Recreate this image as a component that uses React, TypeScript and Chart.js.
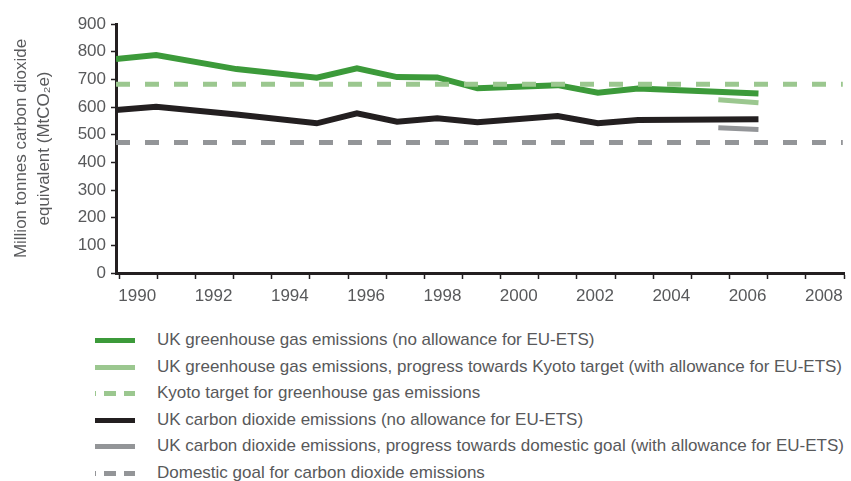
import React, { useEffect, useRef } from "react";
import { Chart, registerables } from "chart.js";

Chart.register(...registerables);

// ---- data ----
const ghgYears = [1990, 1991, 1993, 1995, 1996, 1997, 1998, 1999, 2001, 2002, 2003, 2006];
const ghgValues = [773, 788, 737, 706, 740, 708, 707, 668, 679, 652, 667, 649];
const co2Years = [1990, 1991, 1993, 1995, 1996, 1997, 1998, 1999, 2001, 2002, 2003, 2006];
const co2Values = [589, 601, 573, 541, 577, 547, 559, 545, 567, 541, 553, 556];
const ghgEtsYears = [2005, 2006];
const ghgEtsValues = [626, 615];
const co2EtsYears = [2005, 2006];
const co2EtsValues = [525, 519];
const kyotoYears = [1990, 2008.1];
const kyotoValues = [682, 682];
const domesticYears = [1990, 2008.1];
const domesticValues = [472, 472];

const tickYears = [1990, 1991, 1992, 1993, 1994, 1995, 1996, 1997, 1998, 1999, 2000, 2001, 2002, 2003, 2004, 2005, 2006, 2007, 2008, 2009];
const yMin = 0;
const yMax = 900;
const yStep = 100;
const yTitle = ["Million tonnes carbon dioxide", "equivalent (MtCO\u2082e)"];

const legendLabels = [
  "UK greenhouse gas emissions (no allowance for EU-ETS)",
  "UK greenhouse gas emissions, progress towards Kyoto target (with allowance for EU-ETS)",
  "Kyoto target for greenhouse gas emissions",
  "UK carbon dioxide emissions (no allowance for EU-ETS)",
  "UK carbon dioxide emissions, progress towards domestic goal (with allowance for EU-ETS)",
  "Domestic goal for carbon dioxide emissions",
];

// ---- styles ----
const GREEN = "#3c9a3a";
const LIGHT_GREEN = "#9bc78f";
const BLACK = "#231f20";
const GREY = "#939598";
const TEXT = "#58595b";
const FONT = "'Liberation Sans', Arial, Helvetica, sans-serif";

const zip = (xs: number[], ys: number[]) => xs.map((x, i) => ({ x, y: ys[i] }));

const legendStyles = [
  { color: GREEN, dashed: false },
  { color: LIGHT_GREEN, dashed: false },
  { color: LIGHT_GREEN, dashed: true },
  { color: BLACK, dashed: false },
  { color: GREY, dashed: false },
  { color: GREY, dashed: true },
];

export default function App() {
  const canvasRef = useRef<HTMLCanvasElement | null>(null);

  useEffect(() => {
    if (!canvasRef.current) return;
    const base = {
      pointRadius: 0,
      pointHoverRadius: 0,
      tension: 0,
      fill: false,
      xAxisID: "x2",
      yAxisID: "y",
      borderCapStyle: "butt" as const,
    };
    const chart = new Chart(canvasRef.current, {
      type: "line",
      data: {
        datasets: [
          { ...base, label: legendLabels[2], data: zip(kyotoYears, kyotoValues), borderColor: LIGHT_GREEN, borderWidth: 5, borderDash: [14, 15] },
          { ...base, label: legendLabels[5], data: zip(domesticYears, domesticValues), borderColor: GREY, borderWidth: 5, borderDash: [14, 15] },
          { ...base, label: legendLabels[1], data: zip(ghgEtsYears, ghgEtsValues), borderColor: LIGHT_GREEN, borderWidth: 5 },
          { ...base, label: legendLabels[4], data: zip(co2EtsYears, co2EtsValues), borderColor: GREY, borderWidth: 5 },
          { ...base, label: legendLabels[0], data: zip(ghgYears, ghgValues), borderColor: GREEN, borderWidth: 6 },
          { ...base, label: legendLabels[3], data: zip(co2Years, co2Values), borderColor: BLACK, borderWidth: 6 },
        ],
      },
      options: {
        animation: false,
        responsive: false,
        maintainAspectRatio: false,
        layout: { padding: { top: 24, right: 5, left: 0, bottom: 0 } },
        plugins: { legend: { display: false }, tooltip: { enabled: false } },
        scales: {
          x: {
            type: "linear",
            position: "bottom",
            min: 1989.914,
            max: 2009,
            afterBuildTicks: (axis: any) => {
              axis.ticks = tickYears.map((v) => ({ value: v }));
            },
            afterFit: (axis: any) => {
              axis.height = 42;
            },
            ticks: {
              autoSkip: false,
              maxRotation: 0,
              minRotation: 0,
              labelOffset: 18,
              padding: 7,
              color: TEXT,
              font: { family: FONT, size: 17 },
              callback: (v: any) => (Number(v) % 2 === 0 && Number(v) <= 2008 ? String(v) : ""),
            },
            grid: { display: true, drawOnChartArea: false, drawTicks: true, tickLength: 6, tickWidth: 1.5, tickColor: BLACK },
            border: { display: true, color: BLACK, width: 3 },
          },
          x2: {
            type: "linear",
            display: false,
            min: 1990,
            max: 2008.13,
          },
          y: {
            type: "linear",
            position: "left",
            min: yMin,
            max: yMax,
            afterFit: (axis: any) => {
              axis.width = 116;
            },
            ticks: {
              stepSize: yStep,
              padding: 5,
              color: TEXT,
              font: { family: FONT, size: 17 },
            },
            grid: { display: true, drawOnChartArea: false, drawTicks: true, tickLength: 5, tickWidth: 1.5, tickColor: BLACK },
            border: { display: true, color: BLACK, width: 3 },
            title: {
              display: true,
              text: yTitle,
              color: TEXT,
              font: { family: FONT, size: 17, lineHeight: 1.35 },
              padding: { top: 10, bottom: 0 },
            },
          },
        },
      },
    });
    return () => chart.destroy();
  }, []);

  return (
    <div style={{ position: "absolute", left: 0, top: 0, width: 851, height: 481, overflow: "hidden", background: "#fff", fontFamily: FONT }}>
      <canvas ref={canvasRef} width={851} height={315} style={{ position: "absolute", left: 0, top: 0, width: 851, height: 315 }} />
      {legendLabels.map((label, i) => {
        const st = legendStyles[i];
        const top = 327 + i * 26.5;
        const swatchBg = st.dashed
          ? `repeating-linear-gradient(to right, ${st.color} 0px, ${st.color} 12px, transparent 12px, transparent 20px)`
          : st.color;
        return (
          <div key={i} style={{ position: "absolute", left: 0, top, height: 26.5, width: 851 }}>
            <div
              style={{
                position: "absolute",
                left: 95,
                top: 11,
                width: 40,
                height: 5,
                background: swatchBg,
                backgroundPosition: st.dashed ? "-11px 0" : undefined,
              }}
            />
            <div
              style={{
                position: "absolute",
                left: 157,
                top: 0,
                lineHeight: "26.5px",
                fontSize: 17,
                color: TEXT,
                whiteSpace: "nowrap",
              }}
            >
              {label}
            </div>
          </div>
        );
      })}
    </div>
  );
}
